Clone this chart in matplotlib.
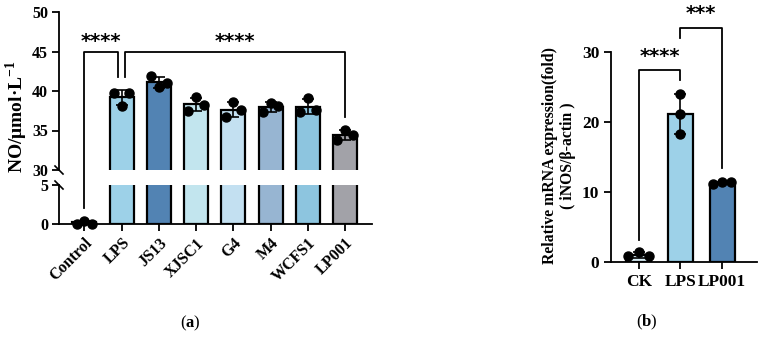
import numpy as np
import matplotlib
matplotlib.use("Agg")
import matplotlib.pyplot as plt
from matplotlib.lines import Line2D

plt.rcParams['font.family'] = ['Liberation Serif', 'DejaVu Serif']
plt.rcParams['font.weight'] = 'bold'
plt.rcParams['mathtext.fontset'] = 'custom'
plt.rcParams['mathtext.rm'] = 'Liberation Serif'
plt.rcParams['mathtext.bf'] = 'Liberation Serif:bold'

# ---------------- data panel (a) ----------------
groups_a = ["Control", "LPS", "JS13", "XJSC1", "G4", "M4", "WCFS1", "LP001"]
means_a = [0.25, 39.2, 41.1, 38.3, 37.6, 38.0, 38.0, 34.4]
sd_a = [0.15, 0.95, 0.7, 0.85, 0.95, 0.6, 0.95, 0.65]
pts_a = [
    [0.05, 0.4, 0.05],
    [39.7, 38.1, 39.8],
    [41.9, 40.5, 41.0],
    [37.5, 39.2, 38.2],
    [36.7, 38.6, 37.6],
    [37.3, 38.5, 38.1],
    [37.3, 39.1, 37.6],
    [33.8, 35.1, 34.4],
]
colors_a = ["#FFFFFF", "#9DD1E8", "#5283B3", "#C2E5EE", "#C3E0F1",
            "#97B5D2", "#8DC5DF", "#A2A2A8"]

# ---------------- data panel (b) ----------------
groups_b = ["CK", "LPS", "LP001"]
means_b = [1.0, 21.1, 11.3]
sd_b = [0.4, 2.85, 0.15]
pts_b = [
    [0.8, 1.5, 0.8],
    [24.0, 21.1, 18.3],
    [11.2, 11.5, 11.4],
]
colors_b = ["#D8EEF5", "#9DD1E8", "#5283B3"]

W, H = 760, 337
fig = plt.figure(figsize=(7.6, 3.37), dpi=100)

def fx(px):
    return px / W

def fy(py):
    return 1 - py / H

lw_sp = 1.3

left_a, right_a = 59, 372
ax_top = fig.add_axes([fx(left_a), fy(170), fx(right_a - left_a), fy(12) - fy(170)])
ax_bot = fig.add_axes([fx(left_a), fy(224), fx(right_a - left_a), fy(185) - fy(224)])
ax_bot.patch.set_visible(False)
ax_top.patch.set_visible(False)

x_a = np.arange(len(groups_a))
offs = [-0.21, 0.0, 0.21]
for ax in (ax_top, ax_bot):
    ax.bar(x_a, means_a, width=0.64, color=colors_a, edgecolor='black',
           linewidth=1.6, zorder=2)
    ax.errorbar(x_a, means_a, yerr=sd_a, fmt='none', ecolor='black',
                elinewidth=1.2, capsize=4, capthick=1.2, zorder=3)
    for i, vals in enumerate(pts_a):
        ax.plot(x_a[i] + np.array(offs), vals, 'o', color='black',
                markersize=6.5, zorder=4, clip_on=(ax is ax_top and i != 0))
    ax.set_xlim(-0.68, 7.72)
    for s in ('top', 'right'):
        ax.spines[s].set_visible(False)
    ax.spines['left'].set_linewidth(lw_sp)
    ax.spines['bottom'].set_linewidth(lw_sp)
    ax.tick_params(width=lw_sp, length=5, labelsize=11.5, pad=3)

ax_top.set_ylim(30, 50)
ax_top.set_yticks([30, 35, 40, 45, 50])
ax_top.spines['bottom'].set_visible(False)
ax_top.set_xticks([])
ax_bot.set_ylim(0, 5)
ax_bot.set_yticks([0, 5])
ax_bot.set_xticks(x_a)
ax_bot.set_xticklabels(groups_a, rotation=45, ha='right', rotation_mode='anchor',
                       fontsize=11.5, fontweight='bold')
for ax in (ax_top, ax_bot):
    for lab in ax.get_yticklabels():
        lab.set_fontweight('bold')

# break marks
for py in (170, 185):
    fig.add_artist(Line2D([fx(left_a - 4), fx(left_a + 4)], [fy(py - 4), fy(py + 4)],
                          color='black', lw=1.2, transform=fig.transFigure))

# significance brackets panel (a)
kw = dict(color='black', lw=1.3, clip_on=False, zorder=5)
ax_top.plot([0, 0, 0.9, 0.9], [25.2, 45, 45, 41.8], **kw)
ax_top.plot([1.1, 1.1, 7, 7], [41.8, 45, 45, 36.7], **kw)
star_kw = dict(ha='center', va='center', fontsize=14, family='DejaVu Sans',
               fontweight='bold', clip_on=False)
ax_top.text(0.45, 46.3, "****", **star_kw)
ax_top.text(4.05, 46.3, "****", **star_kw)

fig.text(fx(17), fy(117), r"NO/μmol·L$^{\mathbf{-1}}$", rotation=90, ha='center',
         va='center', fontsize=14, fontweight='bold')
fig.text(fx(190), fy(323), r"($\mathbf{a}$)", ha='center', va='center', fontsize=12,
         fontweight='normal')

# ---------------- panel (b) ----------------
left_b, right_b = 611, 757
ax_b = fig.add_axes([fx(left_b), fy(262), fx(right_b - left_b), fy(52) - fy(262)])
x_b = np.arange(len(groups_b))
ax_b.bar(x_b, means_b, width=0.6, color=colors_b, edgecolor='black',
         linewidth=1.6, zorder=2)
ax_b.errorbar(x_b, means_b, yerr=sd_b, fmt='none', ecolor='black',
              elinewidth=1.2, capsize=4, capthick=1.2, zorder=3)
offs_b = [[-0.25, 0.0, 0.25], [0.0, 0.0, 0.0], [-0.22, 0.0, 0.22]]
for i, vals in enumerate(pts_b):
    ax_b.plot(x_b[i] + np.array(offs_b[i]), vals, 'o', color='black',
              markersize=6.5, zorder=4, clip_on=False)
ax_b.set_xlim(-0.67, 2.84)
ax_b.set_ylim(0, 30)
ax_b.set_yticks([0, 10, 20, 30])
ax_b.set_xticks(x_b)
ax_b.set_xticklabels(groups_b, fontsize=12.5, fontweight='bold')
for s in ('top', 'right'):
    ax_b.spines[s].set_visible(False)
ax_b.spines['left'].set_linewidth(lw_sp)
ax_b.spines['bottom'].set_linewidth(lw_sp)
ax_b.tick_params(width=lw_sp, length=5, labelsize=12.5)
for lab in ax_b.get_yticklabels():
    lab.set_fontweight('bold')

ax_b.plot([0, 0, 1, 1], [3.1, 27.5, 27.5, 26.0], **kw)
ax_b.plot([1, 1, 2, 2], [32.0, 33.5, 33.5, 13.4], **kw)
ax_b.text(0.5, 29.4, "****", **star_kw)
ax_b.text(1.5, 35.5, "***", **star_kw)

fig.text(fx(559), fy(156), "Relative mRNA expression(fold)\n( iNOS/β-actin )",
         rotation=90, ha='center', va='center', fontsize=11.3, fontweight='bold',
         linespacing=1.2)
fig.text(fx(647), fy(322), r"($\mathbf{b}$)", ha='center', va='center', fontsize=12,
         fontweight='normal')

fig.savefig("out.png", dpi=100)
